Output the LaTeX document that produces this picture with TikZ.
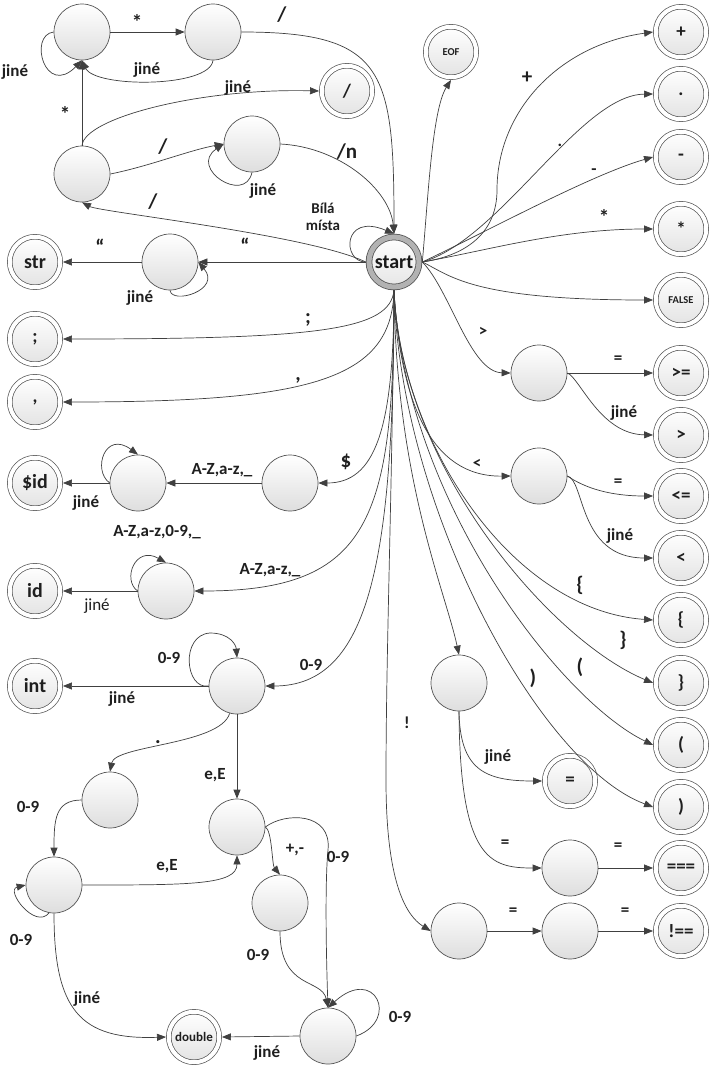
\documentclass[tikz,border=0pt]{standalone}
\usepackage{fontspec}
\setmainfont{Carlito}
\usetikzlibrary{arrows.meta}
\definecolor{ln}{HTML}{404040}
\definecolor{rim}{HTML}{555555}
\begin{document}
\begin{tikzpicture}[x=1pt,y=-1pt,
  st/.style={circle, draw=rim, line width=0.7pt, minimum size=56pt, inner sep=0pt,
    top color=white, bottom color=black!13},
  acc/.style={circle, draw=rim, line width=0.7pt, double=white, double distance=4pt,
    minimum size=50.5pt, inner sep=0pt, outer sep=2.7pt, top color=white, bottom color=black!11,
    text=black!88, font=\bfseries\fontsize{19}{21}\selectfont},
  small/.style={font=\bfseries\fontsize{10.5}{12}\selectfont},
  startst/.style={circle, draw=rim, line width=0.8pt, double=black!30, double distance=5pt,
    minimum size=50pt, inner sep=0pt, outer sep=3.3pt, top color=white, bottom color=black!10,
    text=black!90, font=\bfseries\fontsize{20}{22}\selectfont},
  arr/.style={draw=ln, line width=0.7pt, -{Triangle[length=9pt,width=7pt]}},
  lab/.style={text=black!88, inner sep=0pt, font=\bfseries\fontsize{17}{19}\selectfont},
  labbig/.style={lab, font=\bfseries\fontsize{21}{23}\selectfont},
  labr/.style={text=black!88, inner sep=0pt, font=\fontsize{17}{19}\selectfont},
]
\fill[white] (0,0) rectangle (712,1068);
\useasboundingbox (0,0) rectangle (712,1068);

% ---------- states ----------
\node[startst] (start) at (394,262) {start};

\node[st] (A1) at (82,32) {};
\node[st] (A2) at (213,32) {};
\node[st] (S) at (82,174) {};
\node[st] (LC) at (252,144) {};
\node[st] (strst) at (170,262) {};
\node[st] (dol) at (290,483) {};
\node[st] (dloop) at (138,483) {};
\node[st] (idl) at (166,591) {};
\node[st] (ints) at (237,686) {};
\node[st] (dotst) at (110,800) {};
\node[st] (exps) at (237,827) {};
\node[st] (frac) at (54,885) {};
\node[st] (sign) at (280,903) {};
\node[st] (expd) at (328,1036) {};
\node[st] (gt) at (539,373) {};
\node[st] (lt) at (539,476) {};
\node[st] (eqs) at (459,683) {};
\node[st] (eq2) at (570,868) {};
\node[st] (nots) at (459,931) {};
\node[st] (not2) at (570,931) {};

% ---------- accepting states ----------
\node[acc] (slash) at (347,91) {/};
\node[acc, small] (eof) at (451,52) {EOF};
\node[acc] (plus) at (681,32) {+};
\node[acc] (dotacc) at (681,94) {.};
\node[acc] (minus) at (681,157) {-};
\node[acc] (staracc) at (681,229) {*};
\node[acc, small] (false) at (681,300) {FALSE};
\node[acc] (ge) at (681,373) {>=};
\node[acc] (gtacc) at (681,435) {>};
\node[acc] (le) at (681,496) {<=};
\node[acc] (lessacc) at (681,558) {<};
\node[acc] (lbr) at (681,620) {\{};
\node[acc] (rbr) at (681,683) {\}};
\node[acc] (lpar) at (681,745) {(};
\node[acc] (rpar) at (681,807) {)};
\node[acc] (eqeq) at (681,868) {===};
\node[acc] (neq) at (681,931) {!==};
\node[acc] (eqacc) at (570,781) {=};
\node[acc, font=\bfseries\fontsize{20}{22}\selectfont] (str) at (35,262) {str};
\node[acc] (semi) at (35,339) {;};
\node[acc] (comma) at (35,402) {,};
\node[acc, font=\bfseries\fontsize{20}{22}\selectfont] (sid) at (35,483) {\$id};
\node[acc, font=\bfseries\fontsize{20}{22}\selectfont] (idacc) at (35,591) {id};
\node[acc, font=\bfseries\fontsize{20}{22}\selectfont] (intacc) at (35,686) {int};
\node[acc, font=\bfseries\fontsize{13}{15}\selectfont] (dbl) at (194,1037) {double};

% ---------- comments ----------
\draw[arr] (A1.east) -- (A2.west);
\draw[arr] (A2.south) .. controls (210,88) and (95,88) .. (A1.south);
\draw[arr] (A1.west) .. controls (28,35) and (45,98) .. (A1.south);
\draw[arr] (A2.east) .. controls (385,32) and (394,70) .. (start.north);
\draw[arr] (S.north) -- (A1.south);
\draw[arr] (S.north) .. controls (84,118) and (200,88) .. (slash.west);
\draw[arr] (S.east) .. controls (150,166) and (190,150) .. (LC.west);
\draw[arr] (LC.south) .. controls (245,205) and (188,168) .. (LC.west);
\draw[arr] (LC.east) .. controls (340,147) and (390,190) .. (start.north);
\draw[arr] (start.west) .. controls (310,235) and (100,212) .. (S.south);
\draw[arr] (start.west) .. controls (342,262) and (342,212) .. (start.north);

\node[labbig] (l1) at (137,22) {*};
\node[lab] (l2) at (147,70) {jiné};
\node[lab] (l3) at (15,72) {jiné};
\node[labbig] (l4) at (282,15) {/};
\node[labbig] (l5) at (65,114) {*};
\node[lab] (l6) at (238,88) {jiné};
\node[labbig] (l7) at (163,147) {/};
\node[lab] (l8) at (263,191) {jiné};
\node[labbig] (l9) at (347,152) {/n};
\node[labbig] (l10) at (153,202) {/};
\node[lab, align=center, font=\bfseries\fontsize{15}{17}\selectfont] (l11) at (323,217) {Bílá\\místa};

% ---------- right fan ----------
\draw[arr] (start.east) .. controls (428,200) and (432,110) .. (eof.south);
\draw[arr] (start.east) .. controls (470,255) and (497,230) .. (497,190)
  .. controls (497,110) and (560,45) .. (plus.west);
\draw[arr] (start.east) .. controls (500,240) and (580,95) .. (dotacc.west);
\draw[arr] (start.east) .. controls (480,235) and (590,175) .. (minus.west);
\draw[arr] (start.east) .. controls (490,250) and (560,229) .. (staracc.west);
\draw[arr] (start.east) .. controls (450,275) and (470,300) .. (false.west);
\draw[arr] (start.east) .. controls (450,290) and (470,372) .. (gt.west);
\draw[arr] (gt.east) -- (ge.west);
\draw[arr] (gt.east) .. controls (580,378) and (600,434) .. (gtacc.west);
\draw[arr] (start.south) .. controls (400,400) and (430,477) .. (lt.west);
\draw[arr] (lt.east) .. controls (585,488) and (610,496) .. (le.west);
\draw[arr] (lt.east) .. controls (585,480) and (578,558) .. (lessacc.west);
\draw[arr] (start.south) .. controls (400,440) and (510,610) .. (lbr.west);
\draw[arr] (start.south) .. controls (400,465) and (550,640) .. (rbr.west);
\draw[arr] (start.south) .. controls (405,500) and (560,700) .. (lpar.west);
\draw[arr] (start.south) .. controls (400,510) and (540,765) .. (rpar.west);
\draw[arr] (start.south) .. controls (396,480) and (445,590) .. (eqs.north);
\draw[arr] (eqs.south) .. controls (460,770) and (485,781) .. (eqacc.west);
\draw[arr] (eqs.south) .. controls (460,860) and (490,868) .. (eq2.west);
\draw[arr] (eq2.east) -- (eqeq.west);
\draw[arr] (start.south) .. controls (392,500) and (386,650) .. (386,780)
  .. controls (386,880) and (405,915) .. (nots.west);
\draw[arr] (nots.east) -- (not2.west);
\draw[arr] (not2.east) -- (neq.west);

\node[labbig] (m1) at (527,78) {+};
\node[lab] (m2) at (560,145) {.};
\node[lab] (m3) at (594,172) {-};
\node[labbig] (m4) at (604,217) {*};
\node[lab] (m5) at (483,332) {>};
\node[lab] (m6) at (618,360) {=};
\node[lab] (m7) at (624,413) {jiné};
\node[lab] (m8) at (477,464) {<};
\node[lab] (m9) at (618,483) {=};
\node[lab] (m10) at (620,536) {jiné};
\node[labbig] (m11) at (580,585) {\{};
\node[labbig] (m12) at (623,640) {\}};
\node[labbig] (m13) at (580,667) {(};
\node[labbig] (m14) at (533,678) {)};
\node[lab] (m15) at (407,723) {!};
\node[lab] (m16) at (498,757) {jiné};
\node[lab] (m17) at (505,844) {=};
\node[lab] (m18) at (618,847) {=};
\node[lab] (m19) at (513,912) {=};
\node[lab] (m20) at (625,912) {=};

% ---------- strings, separators, identifiers ----------
\draw[arr] (start.west) -- (strst.east);
\draw[arr] (strst.west) -- (str.east);
\draw[arr] (strst.south) .. controls (172,305) and (222,290) .. (strst.east);
\draw[arr] (start.south) .. controls (390,330) and (320,339) .. (semi.east);
\draw[arr] (start.south) .. controls (392,380) and (310,402) .. (comma.east);
\draw[arr] (start.south) .. controls (394,430) and (375,483) .. (dol.east);
\draw[arr] (dol.west) -- (dloop.east);
\draw[arr] (dloop.west) .. controls (92,470) and (105,430) .. (dloop.north);
\draw[arr] (dloop.west) -- (sid.east);
\draw[arr] (start.south) .. controls (394,520) and (370,591) .. (idl.east);
\draw[arr] (idl.west) .. controls (122,580) and (135,545) .. (idl.north);
\draw[arr] (idl.west) -- (idacc.east);

\node[labbig] (n1) at (245,246) {“};
\node[labbig] (n2) at (100,247) {“};
\node[lab] (n3) at (140,298) {jiné};
\node[labbig] (n4) at (308,320) {;};
\node[labbig] (n5) at (298,380) {,};
\node[labbig] (n6) at (346,462) {\$};
\node[lab] (n7) at (222,470) {A-Z,a-z,\_};
\node[lab] (n8) at (86,503) {jiné};
\node[lab] (n9) at (157,532) {A-Z,a-z,0-9,\_};
\node[lab] (n10) at (270,570) {A-Z,a-z,\_};
\node[labr] (n11) at (97,606) {jiné};

% ---------- numbers ----------
\draw[arr] (start.south) .. controls (394,560) and (370,686) .. (ints.east);
\draw[arr] (ints.west) .. controls (185,690) and (180,635) .. (210,633)
  .. controls (230,633) and (236,645) .. (ints.north);
\draw[arr] (ints.west) -- (intacc.east);
\draw[arr] (ints.255) .. controls (220,745) and (115,745) .. (dotst.north);
\draw[arr] (ints.south) -- (exps.north);
\draw[arr] (dotst.west) .. controls (55,800) and (54,820) .. (frac.north);
\draw[arr] (frac.260) .. controls (35,930) and (5,890) .. (frac.west);
\draw[arr] (frac.east) .. controls (190,885) and (237,885) .. (exps.south);
\draw[arr] (exps.east) .. controls (272,830) and (272,865) .. (sign.north);
\draw[arr] (exps.east) .. controls (285,812) and (332,812) .. (328,850)
  .. controls (325,880) and (326,950) .. (expd.north);
\draw[arr] (sign.south) .. controls (280,990) and (322,978) .. (expd.north);
\draw[arr] (expd.east) .. controls (400,1020) and (375,965) .. (expd.north);
\draw[arr] (expd.west) -- (dbl.east);
\draw[arr] (frac.south) .. controls (54,1010) and (80,1040) .. (dbl.west);

\node[lab] (p1) at (169,658) {0-9};
\node[lab] (p2) at (311,665) {0-9};
\node[lab] (p3) at (122,699) {jiné};
\node[labbig] (p4) at (158,742) {.};
\node[lab] (p5) at (215,775) {e,E};
\node[lab] (p6) at (28,807) {0-9};
\node[lab] (p7) at (167,866) {e,E};
\node[lab] (p8) at (295,850) {+,-};
\node[lab] (p9) at (338,857) {0-9};
\node[lab] (p10) at (21,940) {0-9};
\node[lab] (p11) at (258,955) {0-9};
\node[lab] (p12) at (400,1017) {0-9};
\node[lab] (p13) at (267,1053) {jiné};
\node[lab] (p14) at (87,999) {jiné};
\end{tikzpicture}
\end{document}
